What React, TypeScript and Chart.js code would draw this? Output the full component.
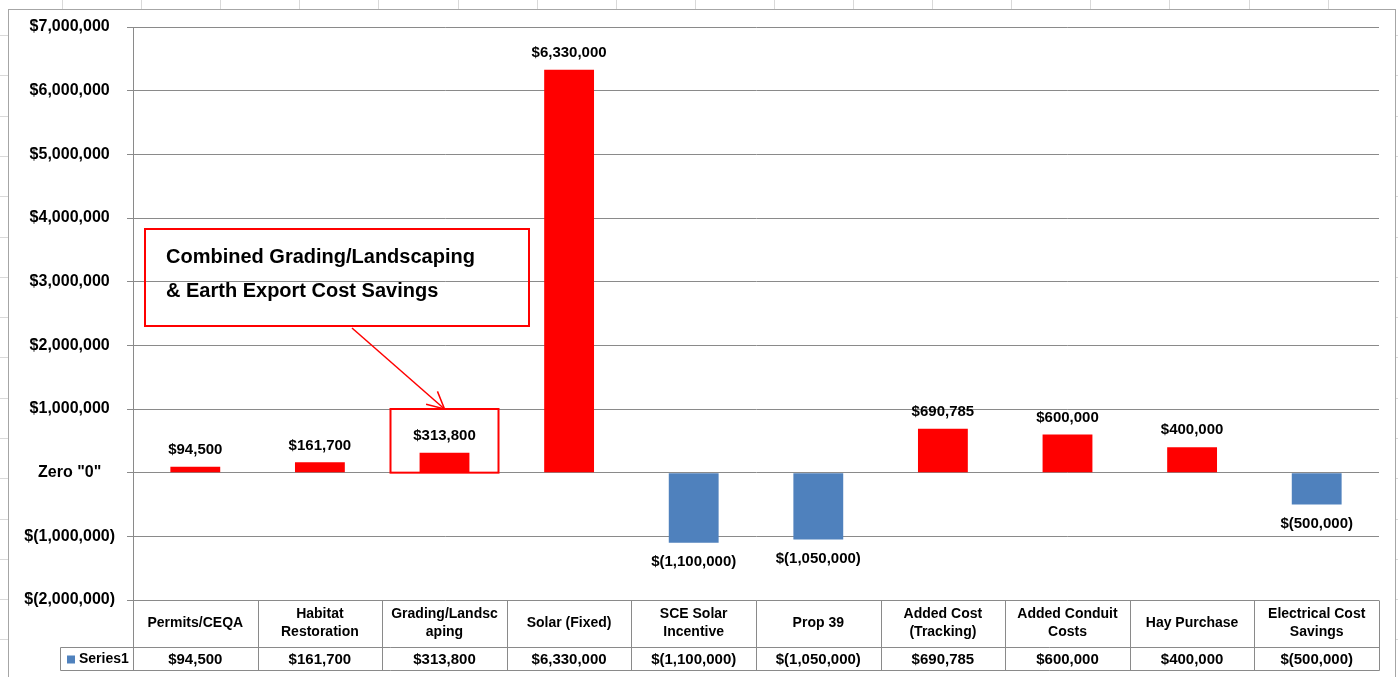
import React, { useEffect, useRef } from "react";
import { Chart, registerables } from "chart.js";

Chart.register(...registerables);

// ---------- data ----------
const categories: string[][] = [
  ["Permits/CEQA"],
  ["Habitat", "Restoration"],
  ["Grading/Landsc", "aping"],
  ["Solar (Fixed)"],
  ["SCE Solar", "Incentive"],
  ["Prop 39"],
  ["Added Cost", "(Tracking)"],
  ["Added Conduit", "Costs"],
  ["Hay Purchase"],
  ["Electrical Cost", "Savings"],
];
const seriesName = "Series1";
const values: number[] = [94500, 161700, 313800, 6330000, -1100000, -1050000, 690785, 600000, 400000, -500000];
const yMin = -2000000;
const yMax = 7000000;
const yStep = 1000000;
const zeroLabel = 'Zero "0"';
const calloutLines: string[] = ["Combined Grading/Landscaping", "& Earth Export Cost Savings"];
const highlightIndex = 2;

// ---------- styles ----------
const FONT = '"Liberation Sans", Arial, sans-serif';
const POS_COLOR = "#FF0000";
const NEG_COLOR = "#4F81BD";
const GRID = "#8a8a8a";

const fmt = (v: number): string => {
  const s = Math.round(Math.abs(v)).toString().replace(/\B(?=(\d{3})+(?!\d))/g, ",");
  return v < 0 ? `$(${s})` : `$${s}`;
};

const px = (v: number) => Math.round(v) + 0.5;

const backgroundPlugin = {
  id: "sheetBackground",
  beforeDraw(chart: any) {
    const { ctx, width, height } = chart;
    ctx.save();
    ctx.fillStyle = "#ffffff";
    ctx.fillRect(0, 0, width, height);
    ctx.strokeStyle = "#d9d9d9";
    ctx.lineWidth = 1;
    for (let x = 62; x < width; x += 79.1) {
      ctx.beginPath();
      ctx.moveTo(px(x), 0);
      ctx.lineTo(px(x), height);
      ctx.stroke();
    }
    for (let y = 35; y < height; y += 40.3) {
      ctx.beginPath();
      ctx.moveTo(0, px(y));
      ctx.lineTo(width, px(y));
      ctx.stroke();
    }
    ctx.fillStyle = "#ffffff";
    ctx.fillRect(8, 9, 1388, height);
    ctx.strokeStyle = "#a6a6a6";
    ctx.strokeRect(8.5, 9.5, 1387, height + 10);
    ctx.restore();
  },
};

const labelsPlugin = {
  id: "valueLabels",
  afterDatasetsDraw(chart: any) {
    const { ctx } = chart;
    const meta = chart.getDatasetMeta(0);
    ctx.save();
    ctx.font = `bold 15px ${FONT}`;
    ctx.fillStyle = "#000";
    ctx.textAlign = "center";
    ctx.textBaseline = "middle";
    meta.data.forEach((el: any, i: number) => {
      const v = values[i];
      const y = v >= 0 ? el.y - 17 : el.y + 19;
      ctx.fillText(fmt(v), el.x, y);
    });
    ctx.restore();
  },
};

const tablePlugin = {
  id: "dataTable",
  afterDraw(chart: any) {
    const { ctx, chartArea: ca } = chart;
    const xs = chart.scales.x;
    const ys = chart.scales.y;
    const n = categories.length;
    const top = ca.bottom;
    const mid = top + 47;
    const bot = mid + 23;
    const labelLeft = 60;
    ctx.save();
    ctx.strokeStyle = GRID;
    ctx.lineWidth = 1;
    // horizontal lines
    [mid, bot].forEach((y) => {
      ctx.beginPath();
      ctx.moveTo(px(labelLeft), px(y));
      ctx.lineTo(px(ca.right), px(y));
      ctx.stroke();
    });
    // vertical lines
    const cw = (ca.right - ca.left) / n;
    for (let i = 0; i <= n; i++) {
      const x = ca.left + i * cw;
      ctx.beginPath();
      ctx.moveTo(px(x), px(top));
      ctx.lineTo(px(x), px(bot));
      ctx.stroke();
    }
    ctx.beginPath();
    ctx.moveTo(px(labelLeft), px(mid));
    ctx.lineTo(px(labelLeft), px(bot));
    ctx.stroke();

    ctx.fillStyle = "#000";
    ctx.textAlign = "center";
    ctx.textBaseline = "middle";
    // category names
    ctx.font = `bold 14px ${FONT}`;
    const rowMid = (top + mid) / 2;
    categories.forEach((lines, i) => {
      const cx = xs.getPixelForValue(i);
      const lh = 18;
      const start = rowMid - ((lines.length - 1) * lh) / 2;
      lines.forEach((t, j) => ctx.fillText(t, cx, start + j * lh));
    });
    // values
    ctx.font = `bold 15px ${FONT}`;
    const valMid = (mid + bot) / 2 + 1;
    values.forEach((v, i) => {
      ctx.fillText(fmt(v), xs.getPixelForValue(i), valMid);
    });
    // legend key
    ctx.fillStyle = NEG_COLOR;
    ctx.fillRect(67, valMid - 4, 8, 8);
    ctx.fillStyle = "#000";
    ctx.textAlign = "left";
    ctx.font = `bold 14px ${FONT}`;
    ctx.fillText(seriesName, 79, valMid);

    // ---------- annotations ----------
    ctx.strokeStyle = "#FF0000";
    ctx.lineWidth = 2;
    // highlight box around the grading bar
    const hx = xs.getPixelForValue(highlightIndex);
    const hTop = ys.getPixelForValue(yStep);
    const hBot = ys.getPixelForValue(0);
    ctx.strokeRect(hx - 54, hTop, 108, hBot - hTop);
    // callout box
    const bx = ca.left + 12;
    const by = 229;
    const bw = 384;
    const bh = 97;
    ctx.strokeRect(bx, by, bw, bh);
    ctx.fillStyle = "#000";
    ctx.textAlign = "left";
    ctx.font = `bold 20px ${FONT}`;
    ctx.fillText(calloutLines[0], bx + 21, by + 28);
    ctx.fillText(calloutLines[1], bx + 21, by + 62);
    // arrow
    const sx = bx + 207;
    const sy = by + bh + 2;
    const ex = hx - 0;
    const ey = hTop;
    ctx.lineWidth = 1.5;
    ctx.beginPath();
    ctx.moveTo(sx, sy);
    ctx.lineTo(ex, ey);
    ctx.stroke();
    const ang = Math.atan2(ey - sy, ex - sx) + Math.PI;
    const L = 19;
    const spread = (27 * Math.PI) / 180;
    ctx.beginPath();
    ctx.moveTo(ex + L * Math.cos(ang - spread), ey + L * Math.sin(ang - spread));
    ctx.lineTo(ex, ey);
    ctx.lineTo(ex + L * Math.cos(ang + spread), ey + L * Math.sin(ang + spread));
    ctx.stroke();
    ctx.restore();
  },
};

export default function App() {
  const ref = useRef<HTMLCanvasElement | null>(null);
  useEffect(() => {
    if (!ref.current) return;
    const chart = new Chart(ref.current, {
      type: "bar",
      data: {
        labels: categories,
        datasets: [
          {
            label: seriesName,
            data: values,
            backgroundColor: values.map((v) => (v < 0 ? NEG_COLOR : POS_COLOR)),
            borderWidth: 0,
            barPercentage: 0.4,
            categoryPercentage: 1.0,
          },
        ],
      },
      options: {
        responsive: false,
        animation: false,
        devicePixelRatio: 1,
        layout: { padding: { top: 27, right: 19, bottom: 77, left: 0 } },
        plugins: {
          legend: { display: false },
          tooltip: { enabled: false },
        },
        scales: {
          x: {
            display: false,
            offset: true,
            grid: { display: false },
          },
          y: {
            min: yMin,
            max: yMax,
            afterFit: (scale: any) => {
              scale.width = 133;
            },
            grid: {
              color: GRID,
              lineWidth: 1,
              drawTicks: true,
              tickLength: 6,
            },
            border: { display: true, color: GRID, width: 1 },
            ticks: {
              stepSize: yStep,
              padding: 12,
              crossAlign: "center",
              color: "#000",
              font: { family: FONT, size: 16, weight: "bold" },
              callback: (v: any) => (Number(v) === 0 ? zeroLabel : fmt(Number(v))),
            },
          },
        },
      },
      plugins: [backgroundPlugin, labelsPlugin, tablePlugin],
    } as any);
    return () => chart.destroy();
  }, []);
  return (
    <div style={{ position: "absolute", left: 0, top: 0, width: 1398, height: 677 }}>
      <canvas ref={ref} width={1398} height={677} style={{ display: "block" }} />
    </div>
  );
}
